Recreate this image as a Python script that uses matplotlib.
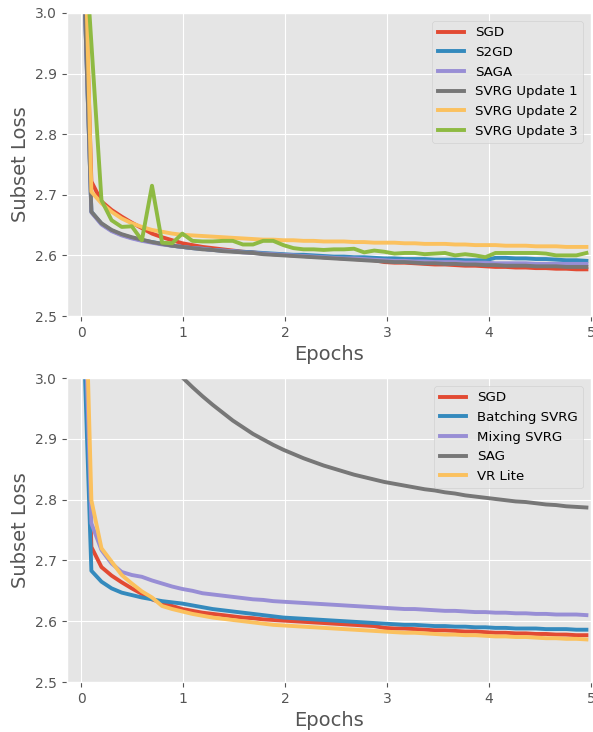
import numpy as np
import matplotlib
matplotlib.use("Agg")
import matplotlib.pyplot as plt

plt.style.use("ggplot")

# Epoch positions of the recorded points (51 evaluations)
epochs = np.arange(51) * 0.0991

# ---- top panel ----
sgd = [3.28, 2.722, 2.689, 2.675, 2.664, 2.654, 2.645, 2.636, 2.630, 2.625,
       2.620, 2.617, 2.614, 2.612, 2.610, 2.608, 2.606, 2.605, 2.603, 2.602,
       2.601, 2.600, 2.599, 2.598, 2.597, 2.596, 2.595, 2.594, 2.593, 2.592,
       2.589, 2.588, 2.588, 2.587, 2.586, 2.585, 2.585, 2.584, 2.583, 2.583,
       2.582, 2.581, 2.581, 2.580, 2.580, 2.579, 2.579, 2.578, 2.578, 2.577,
       2.577]
s2gd = [3.20, 2.672, 2.652, 2.641, 2.634, 2.629, 2.625, 2.622, 2.619, 2.616,
        2.614, 2.612, 2.611, 2.609, 2.608, 2.607, 2.606, 2.605, 2.604, 2.603,
        2.602, 2.601, 2.601, 2.600, 2.599, 2.598, 2.598, 2.597, 2.597, 2.596,
        2.595, 2.595, 2.594, 2.594, 2.594, 2.593, 2.593, 2.593, 2.592, 2.592,
        2.592, 2.596, 2.596, 2.595, 2.595, 2.594, 2.594, 2.593, 2.592, 2.592,
        2.591]
saga = [3.20, 2.671, 2.651, 2.640, 2.633, 2.628, 2.624, 2.621, 2.618, 2.616,
        2.614, 2.612, 2.611, 2.609, 2.608, 2.607, 2.605, 2.604, 2.603, 2.602,
        2.601, 2.600, 2.599, 2.598, 2.597, 2.596, 2.595, 2.595, 2.594, 2.593,
        2.592, 2.591, 2.591, 2.590, 2.590, 2.589, 2.589, 2.589, 2.588, 2.588,
        2.588, 2.587, 2.587, 2.587, 2.587, 2.586, 2.586, 2.586, 2.586, 2.586,
        2.586]
svrg1 = [3.20, 2.672, 2.653, 2.642, 2.635, 2.630, 2.626, 2.622, 2.619, 2.616,
         2.614, 2.612, 2.610, 2.609, 2.607, 2.606, 2.605, 2.604, 2.602, 2.601,
         2.600, 2.599, 2.598, 2.597, 2.596, 2.595, 2.594, 2.593, 2.592, 2.591,
         2.590, 2.589, 2.589, 2.588, 2.587, 2.587, 2.586, 2.586, 2.585, 2.585,
         2.584, 2.584, 2.583, 2.583, 2.583, 2.582, 2.582, 2.582, 2.581, 2.581,
         2.581]
svrg2 = [3.37, 2.705, 2.686, 2.672, 2.661, 2.653, 2.647, 2.642, 2.639, 2.636,
         2.634, 2.633, 2.632, 2.631, 2.630, 2.629, 2.628, 2.627, 2.626, 2.626,
         2.625, 2.625, 2.624, 2.624, 2.623, 2.623, 2.623, 2.622, 2.622, 2.621,
         2.621, 2.621, 2.620, 2.620, 2.619, 2.619, 2.619, 2.618, 2.618, 2.617,
         2.617, 2.617, 2.616, 2.616, 2.616, 2.615, 2.615, 2.615, 2.614, 2.614,
         2.614]
svrg3 = [3.21, 2.95, 2.691, 2.658, 2.647, 2.648, 2.625, 2.715, 2.621, 2.620,
         2.636, 2.624, 2.623, 2.623, 2.624, 2.624, 2.618, 2.618, 2.624, 2.624,
         2.617, 2.612, 2.610, 2.610, 2.609, 2.610, 2.610, 2.611, 2.605, 2.608,
         2.606, 2.603, 2.604, 2.604, 2.602, 2.603, 2.604, 2.600, 2.602, 2.600,
         2.597, 2.604, 2.604, 2.604, 2.604, 2.604, 2.603, 2.600, 2.600, 2.600,
         2.604]

# ---- bottom panel ----
batching_svrg = [3.19, 2.683, 2.665, 2.654, 2.647, 2.643, 2.639, 2.636, 2.633, 2.631,
                 2.629, 2.626, 2.623, 2.620, 2.618, 2.616, 2.614, 2.612, 2.610, 2.608,
                 2.606, 2.605, 2.604, 2.603, 2.602, 2.601, 2.600, 2.599, 2.598, 2.597,
                 2.596, 2.595, 2.594, 2.594, 2.593, 2.592, 2.592, 2.591, 2.591, 2.590,
                 2.590, 2.589, 2.589, 2.588, 2.588, 2.588, 2.587, 2.587, 2.587, 2.586,
                 2.586]
mixing_svrg = [3.30, 2.761, 2.717, 2.695, 2.681, 2.676, 2.673, 2.667, 2.662, 2.657,
               2.653, 2.650, 2.646, 2.644, 2.642, 2.640, 2.638, 2.636, 2.635, 2.633,
               2.632, 2.631, 2.630, 2.629, 2.628, 2.627, 2.626, 2.625, 2.624, 2.623,
               2.622, 2.621, 2.620, 2.620, 2.619, 2.618, 2.617, 2.617, 2.616, 2.615,
               2.615, 2.614, 2.614, 2.613, 2.613, 2.612, 2.612, 2.611, 2.611, 2.611,
               2.610]
sag = [4.60, 4.20, 3.90, 3.65, 3.45, 3.30, 3.19, 3.11, 3.055, 3.017,
       3.001, 2.985, 2.970, 2.956, 2.943, 2.930, 2.919, 2.908, 2.899, 2.890,
       2.882, 2.875, 2.868, 2.862, 2.856, 2.851, 2.846, 2.841, 2.837, 2.833,
       2.829, 2.826, 2.823, 2.820, 2.817, 2.815, 2.812, 2.810, 2.807, 2.805,
       2.803, 2.801, 2.799, 2.797, 2.796, 2.794, 2.792, 2.791, 2.789, 2.788,
       2.787]
vr_lite = [3.40, 2.799, 2.720, 2.698, 2.676, 2.662, 2.649, 2.639, 2.625, 2.620,
           2.616, 2.612, 2.609, 2.606, 2.604, 2.602, 2.600, 2.598, 2.596, 2.594,
           2.593, 2.592, 2.591, 2.590, 2.589, 2.588, 2.587, 2.586, 2.585, 2.584,
           2.583, 2.582, 2.581, 2.581, 2.580, 2.579, 2.578, 2.578, 2.577, 2.577,
           2.576, 2.575, 2.575, 2.574, 2.574, 2.573, 2.572, 2.572, 2.571, 2.571,
           2.570]

top_series = [("SGD", sgd), ("S2GD", s2gd), ("SAGA", saga),
              ("SVRG Update 1", svrg1), ("SVRG Update 2", svrg2),
              ("SVRG Update 3", svrg3)]
bottom_series = [("SGD", sgd), ("Batching SVRG", batching_svrg),
                 ("Mixing SVRG", mixing_svrg), ("SAG", sag), ("VR Lite", vr_lite)]

colors = ["#E24A33", "#348ABD", "#988ED5", "#777777", "#FBC15E", "#8EBA42"]

fig = plt.figure(figsize=(5.93, 7.32), dpi=100)
ax1 = fig.add_axes([67 / 593, 1 - 316 / 732, 524 / 593, 303 / 732])
ax2 = fig.add_axes([67 / 593, 1 - 682 / 732, 524 / 593, 304 / 732])

for ax, series in ((ax1, top_series), (ax2, bottom_series)):
    for (label, vals), c in zip(series, colors):
        ax.plot(epochs, vals, color=c, lw=2.8, label=label)
    ax.set_xlim(-0.14, 5.0)
    ax.set_ylim(2.5, 3.0)
    ax.set_xticks([0, 1, 2, 3, 4, 5])
    ax.set_yticks([2.5, 2.6, 2.7, 2.8, 2.9, 3.0])
    ax.set_xlabel("Epochs", fontsize=14, color="#555555")
    ax.set_ylabel("Subset Loss", fontsize=14, color="#555555")
    ax.tick_params(labelsize=10)
    ax.legend(loc="upper right", fontsize=9.6, borderaxespad=0.6)

fig.savefig("out.png", dpi=100)
